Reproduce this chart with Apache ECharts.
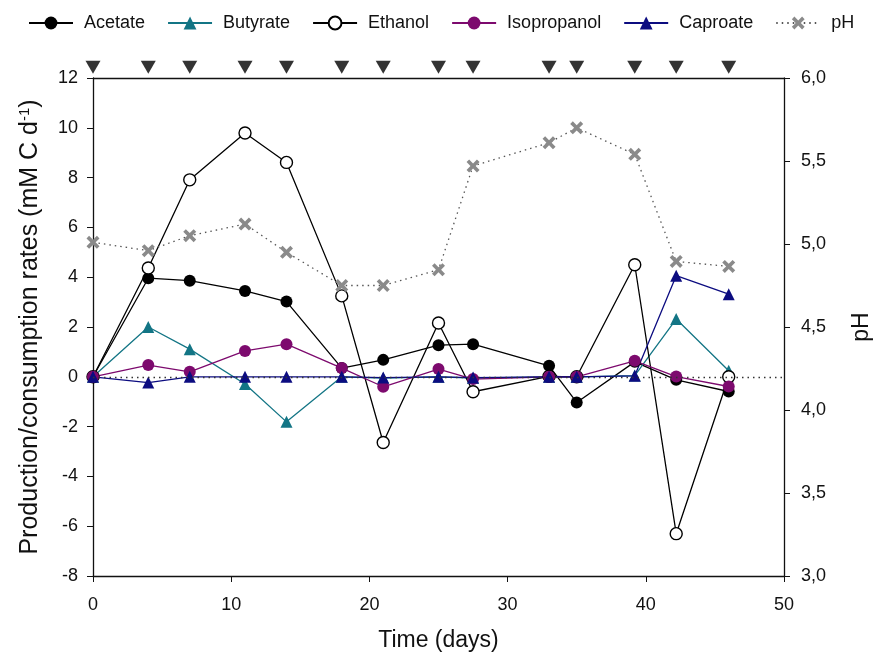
<!DOCTYPE html>
<html>
<head>
<meta charset="utf-8">
<script src="https://cdn.jsdelivr.net/npm/echarts@6/dist/echarts.min.js"></script>
<style>
  html, body { margin: 0; padding: 0; background: #fff; }
  #chart-container { width: 873px; height: 656px; }
</style>
</head>
<body>
<div id="chart-container"></div>
<script>
// sampling days (x) and rates in mM C/d
var days = [0, 4, 7, 11, 14, 18, 21, 25, 27.5, 33, 35, 39.2, 42.2, 46];
var acetate = [0, 3.96, 3.86, 3.45, 3.02, 0.35, 0.68, 1.27, 1.31, 0.44, -1.03, 0.6, -0.12, -0.59];
var butyrate = [0, 2.0, 1.11, -0.29, -1.81, 0, -0.05, 0, -0.05, 0, 0, 0.05, 2.32, 0.24];
var ethanol = [0, 4.37, 7.91, 9.79, 8.61, 3.25, -2.64, 2.16, -0.6, 0.02, 0, 4.5, -6.3, 0];
var isopropanol = [0, 0.47, 0.2, 1.04, 1.31, 0.35, -0.4, 0.31, -0.09, 0, 0, 0.64, 0.01, -0.39];
var caproate = [0, -0.23, 0, 0, 0, 0, -0.03, 0, -0.03, 0, 0, 0.04, 4.06, 3.32];
var pH = [5.01, 4.96, 5.05, 5.12, 4.95, 4.75, 4.75, 4.845, 5.47, 5.61, 5.7, 5.54, 4.895, 4.865];
// feeding events (black triangles on top)
var feedDays = [0, 4, 7, 11, 14, 18, 21, 25, 27.5, 33, 35, 39.2, 42.2, 46];
var feedLevel = 12.43;

var dom = document.getElementById("chart-container");
var myChart = echarts.init(dom, null, { renderer: "canvas" });

var font = "Liberation Sans, Arial, sans-serif";
var crossPath = "path://M2,0 L5,3 L8,0 L10,2 L7,5 L10,8 L8,10 L5,7 L2,10 L0,8 L3,5 L0,2 Z";

function pairs(xs, ys) {
  return xs.map(function (x, i) {
    return [x, ys[i]];
  });
}

function lineSeries(name, values, color, symbol, extra) {
  var s = {
    name: name,
    type: "line",
    data: pairs(days, values),
    symbol: symbol,
    symbolSize: 12,
    showSymbol: true,
    lineStyle: { color: color, width: 1.3 },
    itemStyle: { color: color },
    emphasis: { disabled: true },
  };
  for (var k in extra) s[k] = extra[k];
  return s;
}

var option = {
  animation: false,
  textStyle: { fontFamily: font },
  grid: { left: 93, right: 89, top: 78, bottom: 80, outerBoundsMode: "none", containLabel: false },
  legend: {
    top: 9,
    left: 23,
    itemWidth: 44,
    itemHeight: 16,
    itemGap: 22,
    textStyle: { fontSize: 18, color: "#111", fontFamily: font, padding: [0, 0, 0, 6] },
    data: ["Acetate", "Butyrate", "Ethanol", "Isopropanol", "Caproate", "pH"],
  },
  xAxis: {
    type: "value",
    min: 0,
    max: 50,
    interval: 10,
    name: "Time (days)",
    nameLocation: "middle",
    nameGap: 53,
    nameTextStyle: { fontSize: 23, color: "#111" },
    axisLine: { onZero: false, lineStyle: { color: "#111", width: 1.3 } },
    axisTick: { inside: false, length: 6, lineStyle: { color: "#111" } },
    axisLabel: { fontSize: 18, color: "#111", margin: 20 },
    splitLine: { show: false },
  },
  yAxis: [
    {
      type: "value",
      min: -8,
      max: 12,
      interval: 2,
      position: "left",
      name: "Production/consumption rates (mM C d{sup|-1})",
      nameLocation: "middle",
      nameRotate: 90,
      nameGap: 49,
      nameTextStyle: {
        fontSize: 25,
        color: "#111",
        rich: { sup: { fontSize: 15, color: "#111", verticalAlign: "top", padding: [0, 0, 12, 0] } },
      },
      axisLine: { show: true, onZero: false, lineStyle: { color: "#111", width: 1.3 } },
      axisTick: { show: true, length: 6, lineStyle: { color: "#111" } },
      axisLabel: { fontSize: 18, color: "#111", margin: 15 },
      splitLine: { show: false },
    },
    {
      type: "value",
      min: 3,
      max: 6,
      interval: 0.5,
      position: "right",
      name: "pH",
      nameLocation: "middle",
      nameRotate: 90,
      nameGap: 66,
      nameTextStyle: { fontSize: 23, color: "#111" },
      axisLine: { show: true, onZero: false, lineStyle: { color: "#111", width: 1.3 } },
      axisTick: { show: true, length: 6, lineStyle: { color: "#111" } },
      axisLabel: {
        fontSize: 18,
        color: "#111",
        margin: 17,
        formatter: function (v) {
          return v.toFixed(1).replace(".", ",");
        },
      },
      splitLine: { show: false },
    },
  ],
  series: [
    lineSeries("Acetate", acetate, "#000000", "circle", {
      markLine: {
        silent: true,
        symbol: "none",
        label: { show: false },
        lineStyle: { color: "#333", type: [1.5, 4], width: 1.3 },
        data: [{ yAxis: 0 }],
      },
    }),
    lineSeries("Butyrate", butyrate, "#137585", "triangle"),
    lineSeries("Ethanol", ethanol, "#000000", "circle", {
      itemStyle: { color: "#fff", borderColor: "#000", borderWidth: 1.4 },
    }),
    lineSeries("Isopropanol", isopropanol, "#7d0a6e", "circle"),
    lineSeries("Caproate", caproate, "#0c0c80", "triangle"),
    {
      name: "pH",
      type: "line",
      yAxisIndex: 1,
      data: pairs(days, pH),
      symbol: crossPath,
      symbolSize: 13,
      lineStyle: { color: "#555", width: 1.3, type: [1.5, 4] },
      itemStyle: { color: "#8a8a8a" },
      emphasis: { disabled: true },
    },
    {
      name: "feeding",
      type: "scatter",
      data: feedDays.map(function (d) {
        return [d, feedLevel];
      }),
      symbol: "triangle",
      symbolRotate: 180,
      symbolSize: [15, 13],
      clip: false,
      itemStyle: { color: "#000" },
      emphasis: { disabled: true },
      silent: true,
    },
    {
      // top frame line
      name: "frame",
      type: "line",
      data: [],
      markLine: {
        silent: true,
        symbol: "none",
        label: { show: false },
        lineStyle: { color: "#111", type: "solid", width: 1.3 },
        data: [{ yAxis: 12 }],
      },
    },
  ],
};

myChart.setOption(option);

window.addEventListener("resize", myChart.resize);
</script>
</body>
</html>
